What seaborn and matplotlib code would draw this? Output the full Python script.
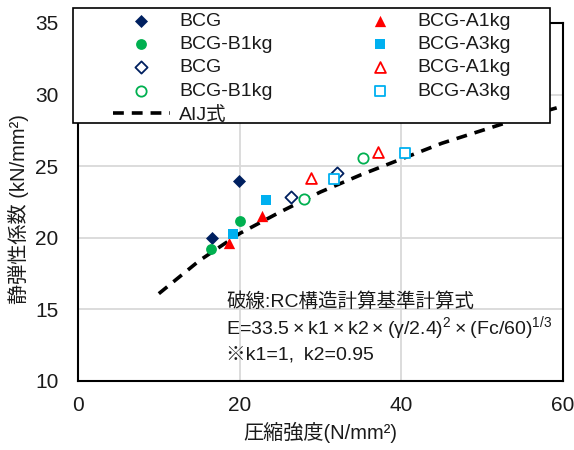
import matplotlib
matplotlib.use("Agg")
import matplotlib.pyplot as plt
from matplotlib.patches import Rectangle
import seaborn as sns
import pandas as pd

# ---- data ----
bcg_x = [16.6, 19.9]
bcg_y = [20.0, 24.0]
b1_x = [16.45, 20.0]
b1_y = [19.25, 21.2]
a1_x = [18.7, 22.8]
a1_y = [19.65, 21.55]
a3_x = [19.2, 23.2]
a3_y = [20.3, 22.65]

bcg_o_x = [26.3, 32.0]
bcg_o_y = [22.85, 24.5]
b1_o_x = [28.0, 35.2]
b1_o_y = [22.7, 25.55]
a1_o_x = [28.8, 37.1]
a1_o_y = [24.2, 26.0]
a3_o_x = [31.7, 40.5]
a3_o_y = [24.1, 25.9]

aij_fc = [10, 15, 20, 25, 30, 35, 40, 45, 50, 55, 60]
aij_e = [16.1, 18.4, 20.3, 21.8, 23.2, 24.4, 25.5, 26.6, 27.5, 28.4, 29.2]

x_ticks = [0, 20, 40, 60]
y_ticks = [10, 15, 20, 25, 30, 35]

navy = "#002060"
green = "#00b050"
red = "#ff0000"
blue = "#00b0f0"
txt = "#1a1a1a"

sns.set_theme(style="white")
plt.rcParams["font.family"] = ["Liberation Sans", "Noto Sans CJK JP", "DejaVu Sans"]
plt.rcParams["mathtext.fontset"] = "custom"
plt.rcParams["mathtext.rm"] = "Liberation Sans"
plt.rcParams["mathtext.it"] = "Liberation Sans"

W, H = 574, 450
fig = plt.figure(figsize=(W / 100, H / 100), dpi=100)
ax = fig.add_axes([78 / W, 1 - 381 / H, (563 - 78) / W, (381 - 23) / H])

ms = 55
lw_o = 1.3

def pts(x, y):
    return pd.DataFrame({"x": x, "y": y})

sns.scatterplot(data=pts(bcg_x, bcg_y), x="x", y="y", ax=ax, marker="D", s=ms * 0.8,
                color=navy, edgecolor=navy, linewidth=0, label="BCG", zorder=5)
sns.scatterplot(data=pts(b1_x, b1_y), x="x", y="y", ax=ax, marker="o", s=ms * 1.1,
                color=green, edgecolor=green, linewidth=0, label="BCG-B1kg", zorder=5)
sns.scatterplot(data=pts(bcg_o_x, bcg_o_y), x="x", y="y", ax=ax, marker="D", s=ms * 0.7,
                facecolor="white", edgecolor=navy, linewidth=lw_o, label="BCG", zorder=5)
sns.scatterplot(data=pts(b1_o_x, b1_o_y), x="x", y="y", ax=ax, marker="o", s=ms * 1.0,
                facecolor="white", edgecolor=green, linewidth=lw_o, label="BCG-B1kg", zorder=5)
sns.lineplot(data=pd.DataFrame({"x": aij_fc, "y": aij_e}), x="x", y="y", ax=ax,
             color="black", linewidth=2.6, dashes=(3, 2.2), label="AIJ式", zorder=3)
sns.scatterplot(data=pts(a1_x, a1_y), x="x", y="y", ax=ax, marker="^", s=ms * 1.2,
                color=red, edgecolor=red, linewidth=0, label="BCG-A1kg", zorder=5)
sns.scatterplot(data=pts(a3_x, a3_y), x="x", y="y", ax=ax, marker="s", s=ms * 1.1,
                color=blue, edgecolor=blue, linewidth=0, label="BCG-A3kg", zorder=5)
sns.scatterplot(data=pts(a1_o_x, a1_o_y), x="x", y="y", ax=ax, marker="^", s=ms * 1.1,
                facecolor="white", edgecolor=red, linewidth=lw_o, label="BCG-A1kg", zorder=5)
sns.scatterplot(data=pts(a3_o_x, a3_o_y), x="x", y="y", ax=ax, marker="s", s=ms * 1.0,
                facecolor="white", edgecolor=blue, linewidth=lw_o, label="BCG-A3kg", zorder=5)

handles, labels = ax.get_legend_handles_labels()
if ax.get_legend() is not None:
    ax.get_legend().remove()

ax.set_xlim(0, 60)
ax.set_ylim(10, 35)
ax.set_xticks(x_ticks)
ax.set_yticks(y_ticks)
ax.grid(True, color="#d9d9d9", linewidth=1.3, zorder=0)
ax.set_axisbelow(True)
for sp in ax.spines.values():
    sp.set_color("black")
    sp.set_linewidth(1.5)
ax.tick_params(axis="both", direction="in", length=4, width=1.2, color="black",
               labelsize=15, labelcolor=txt)
ax.tick_params(axis="x", pad=11)
ax.tick_params(axis="y", pad=14)
ax.set_xlabel("圧縮強度(N/mm²)", fontsize=14.5, color=txt)
ax.set_ylabel("静弾性係数 (kN/mm²)", fontsize=14.5, color=txt)
ax.xaxis.set_label_coords(0.499, (381 - 422) / 358)
ax.yaxis.set_label_coords((29 - 78) / 485, (381 - 209) / 358)

ts = "\u2009"
notes = [
    (226, 302, "破線:RC構造計算基準計算式"),
    (226, 328, f"E=33.5{ts}×{ts}k1{ts}×{ts}k2{ts}×{ts}(γ/2.4)$^2${ts}×{ts}(Fc/60)$^{{1/3}}$"),
    (226, 355, "※k1=1,\u2002k2=0.95"),
]
for px, py, s in notes:
    fig.text(px / W, 1 - py / H, s, fontsize=14, color=txt, va="center", ha="left")

# legend frame drawn separately (wide left margin as in the reference)
rect = Rectangle((73 / W, 1 - 123 / H), (550 - 73) / W, (123 - 8) / H,
                 transform=fig.transFigure, facecolor="white", edgecolor="black",
                 linewidth=1.2, zorder=9)
fig.add_artist(rect)

leg = fig.legend(handles, labels, ncol=2, loc="upper left",
                 bbox_to_anchor=(113 / W, 1 - 12 / H), bbox_transform=fig.transFigure,
                 fontsize=14, frameon=False, handlelength=2.93, handletextpad=0.46,
                 labelspacing=0.3, borderpad=0, columnspacing=4.05, borderaxespad=0)
leg.set_zorder(10)
for t in leg.get_texts():
    t.set_color(txt)

fig.savefig("out.png", dpi=100)
